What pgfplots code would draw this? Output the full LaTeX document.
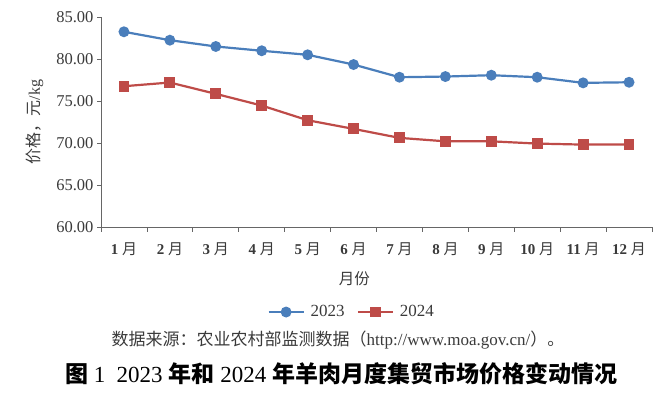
\documentclass[border=0pt]{standalone}
\usepackage{fontspec}
\usepackage{pgfplots}
\pgfplotsset{compat=1.18}
\setmainfont{Liberation Serif}
\newfontfamily\cjk{Noto Sans CJK SC}
\definecolor{cblue}{HTML}{4A7EBB}
\definecolor{cred}{HTML}{BE4B48}
\definecolor{txt}{HTML}{3A3A3A}
\newcommand{\yue}{{\cjk\mdseries 月}}
\begin{document}
\begin{tikzpicture}
\path[use as bounding box] (0,0) rectangle (672bp,393bp);
\begin{axis}[
  at={(101bp,166bp)}, anchor=south west,
  scale only axis, width=551bp, height=210bp,
  xmin=0.5, xmax=12.5, ymin=60, ymax=85,
  axis lines*=left, axis line style={-, draw=gray!80!black, line width=0.8bp},
  tick align=outside,
  xtick={1,...,12},
  xticklabels={1\ \yue,2\ \yue,3\ \yue,4\ \yue,5\ \yue,6\ \yue,7\ \yue,8\ \yue,9\ \yue,10\ \yue,11\ \yue,12\ \yue},
  major x tick style={draw=none},
  minor xtick={0.5,1.5,...,12.5},
  minor x tick style={draw=gray!80!black, line width=0.8bp},
  minor tick length=5bp,
  ytick={60,65,...,85},
  major y tick style={draw=gray!80!black, line width=0.8bp},
  major tick length=4bp,
  /pgf/number format/assume math mode=true,
  yticklabel style={/pgf/number format/.cd, fixed, fixed zerofill, precision=2},
  tick label style={font=\fontsize{16.5bp}{18bp}\selectfont, text=txt},
  xticklabel style={yshift=-8bp, font=\fontsize{15bp}{18bp}\selectfont\bfseries},
  xlabel={\cjk 月份},
  xlabel style={at={(axis description cs:0.46,-0.248)}, anchor=center, font=\fontsize{15.5bp}{18bp}\selectfont, text=txt},
  ylabel={{\cjk 价格，元}/kg},
  ylabel style={at={(axis description cs:-0.12,0.5)}, anchor=center, font=\fontsize{16bp}{18bp}\selectfont, text=txt},
  legend columns=2,
  legend style={at={(0.455,-0.405)}, anchor=center, draw=none, fill=none,
    font=\fontsize{17bp}{18bp}\selectfont, text=txt,
    /tikz/every even column/.append style={column sep=10bp}},
  legend image code/.code={\draw[mark repeat=2,mark phase=2] plot coordinates {(0bp,0bp) (17.5bp,0bp) (35bp,0bp)};},
]
\addplot[cblue, line width=2.2bp, mark=*, mark size=4.3bp, mark options={solid}] coordinates {
 (1,83.24) (2,82.24) (3,81.49) (4,80.98) (5,80.50) (6,79.34)
 (7,77.83) (8,77.91) (9,78.07) (10,77.83) (11,77.16) (12,77.23)};
\addlegendentry{\hspace{4bp}2023}
\addplot[cred, line width=2.2bp, mark=square*, mark size=4.3bp, mark options={solid}] coordinates {
 (1,76.76) (2,77.20) (3,75.85) (4,74.46) (5,72.71) (6,71.68)
 (7,70.61) (8,70.20) (9,70.20) (10,69.93) (11,69.81) (12,69.81)};
\addlegendentry{\hspace{4bp}2024}
\end{axis}
\node[text=txt, font=\fontsize{17bp}{18bp}\selectfont] at (338bp,53bp) {{\cjk 数据来源：农业农村部监测数据（}http://www.moa.gov.cn/{\cjk ）。}};
\node[text=black, font=\fontsize{23bp}{25bp}\selectfont] at (341bp,19bp) {{\cjk\bfseries 图} 1\ \ 2023\ {\cjk\bfseries 年和} 2024\ {\cjk\bfseries 年羊肉月度集贸市场价格变动情况}};
\end{tikzpicture}
\end{document}
